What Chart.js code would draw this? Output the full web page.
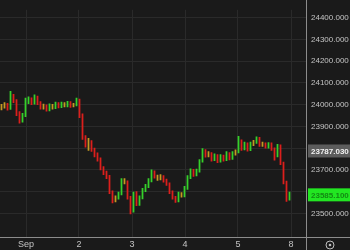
<!DOCTYPE html>
<html>
<head>
<meta charset="utf-8">
<script src="https://cdn.jsdelivr.net/npm/chart.js@4.4.1/dist/chart.umd.min.js"></script>
<style>
  html, body { margin: 0; padding: 0; background: #1a1a1a; }
  #wrap { width: 350px; height: 250px; }
</style>
</head>
<body>
<div id="wrap"><canvas id="chart"></canvas></div>
<script>
// price bars, one every ~3px of the reference
var firstOpen = 23985;
var closes = [23991, 24000, 23982, 24040, 24018, 23960, 23934, 23951, 24013, 24026,
  24009, 24035, 24009, 23987, 23996, 23978, 23996, 23987, 24004, 23991,
  24004, 23996, 24009, 23996, 24000, 24022, 23951, 23850, 23819, 23828,
  23793, 23771, 23749, 23709, 23687, 23669, 23598, 23563, 23572, 23590,
  23651, 23643, 23572, 23510, 23590, 23541, 23572, 23607, 23625, 23651,
  23691, 23669, 23660, 23669, 23651, 23634, 23598, 23572, 23559, 23590,
  23581, 23616, 23665, 23696, 23678, 23696, 23740, 23788, 23766, 23775,
  23748, 23766, 23740, 23762, 23748, 23775, 23753, 23775, 23784, 23832,
  23797, 23819, 23793, 23819, 23828, 23846, 23815, 23819, 23806, 23819,
  23797, 23766, 23810, 23731, 23643, 23568, 23585];
var highs = [24002, 24010, 24006, 24062, 24048, 24024, 23968, 23960, 24030, 24036,
  24032, 24045, 24040, 24015, 24003, 24000, 24004, 24002, 24012, 24010,
  24012, 24010, 24016, 24014, 24006, 24030, 24026, 23958, 23858, 23845,
  23835, 23800, 23778, 23755, 23715, 23694, 23675, 23604, 23580, 23598,
  23660, 23660, 23650, 23578, 23598, 23600, 23580, 23615, 23634, 23660,
  23700, 23696, 23676, 23678, 23674, 23658, 23640, 23604, 23578, 23598,
  23596, 23624, 23674, 23705, 23702, 23704, 23748, 23798, 23794, 23784,
  23780, 23774, 23770, 23770, 23768, 23784, 23780, 23784, 23792, 23855,
  23838, 23828, 23825, 23828, 23836, 23852, 23850, 23828, 23825, 23826,
  23824, 23802, 23818, 23815, 23736, 23648, 23598];
var lows = [23976, 23984, 23975, 23978, 24010, 23950, 23915, 23920, 23945, 24005,
  24000, 24002, 24000, 23980, 23980, 23970, 23972, 23980, 23982, 23985,
  23986, 23990, 23990, 23988, 23990, 23995, 23940, 23840, 23805, 23790,
  23785, 23760, 23740, 23700, 23678, 23660, 23590, 23548, 23552, 23565,
  23585, 23635, 23565, 23497, 23505, 23535, 23536, 23566, 23600, 23618,
  23645, 23662, 23652, 23654, 23644, 23628, 23590, 23565, 23550, 23552,
  23574, 23576, 23610, 23660, 23670, 23672, 23690, 23735, 23758, 23760,
  23740, 23742, 23733, 23735, 23740, 23742, 23746, 23748, 23768, 23778,
  23790, 23792, 23786, 23788, 23812, 23822, 23808, 23808, 23800, 23800,
  23790, 23745, 23760, 23724, 23635, 23555, 23560];

var dayTicks = [8.17, 25.83, 43.5, 61.17, 78.83, 96.5];
var dayLabels = ['Sep', '2', '3', '4', '5', '8'];
var priceTicks = [23500, 23600, 23700, 23800, 23900, 24000, 24100, 24200, 24300, 24400];
var hiddenTicks = [23600, 23800];
var lastPrice = 23585.1;
var markPrice = 23787.03;

var bars = [], colors = [];
for (var i = 0; i < closes.length; i++) {
  var open = i ? closes[i - 1] : firstOpen;
  bars.push({ x: i, y: [lows[i], highs[i]] });
  var diff = closes[i] - open;
  if (Math.abs(diff) < 12) colors.push('#c49a22');
  else if (diff > 0) colors.push('#35d12a');
  else colors.push('#dc1f1c');
}

var FONT = '"Liberation Sans", Arial, sans-serif';

var extras = {
  id: 'extras',
  afterDraw: function(chart) {
    var ctx = chart.ctx, y = chart.scales.y, area = chart.chartArea;
    ctx.save();
    // axis lines
    ctx.strokeStyle = '#8c8c8c';
    ctx.lineWidth = 1;
    ctx.beginPath();
    ctx.moveTo(area.right + 0.5, 0);
    ctx.lineTo(area.right + 0.5, chart.height);
    ctx.moveTo(0, area.bottom + 0.5);
    ctx.lineTo(chart.width, area.bottom + 0.5);
    ctx.stroke();
    // price boxes
    function box(v, bg, fg) {
      var py = y.getPixelForValue(v);
      ctx.fillStyle = bg;
      ctx.fillRect(area.right + 2, py - 6.5, chart.width - area.right - 2, 13);
      ctx.fillStyle = fg;
      ctx.font = 'bold 8px ' + FONT;
      ctx.textBaseline = 'middle';
      ctx.textAlign = 'left';
      ctx.fillText(v.toFixed(3), area.right + 5, py + 0.5);
    }
    box(markPrice, '#5c5c5c', '#f0f0f0');
    box(lastPrice, '#22e622', '#138a13');
    // settings icon
    ctx.strokeStyle = '#bdbdbd';
    ctx.beginPath();
    ctx.arc(330, 245, 4, 0, Math.PI * 2);
    ctx.stroke();
    ctx.fillStyle = '#bdbdbd';
    ctx.beginPath();
    ctx.arc(330, 245, 1.3, 0, Math.PI * 2);
    ctx.fill();
    ctx.restore();
  }
};

var bgPlugin = {
  id: 'bg',
  beforeDraw: function(chart) {
    var ctx = chart.ctx;
    ctx.save();
    ctx.fillStyle = '#1a1a1a';
    ctx.fillRect(0, 0, chart.width, chart.height);
    ctx.restore();
  }
};

new Chart(document.getElementById('chart'), {
  type: 'bar',
  data: {
    datasets: [{
      data: bars,
      backgroundColor: colors,
      borderWidth: 0,
      barThickness: 1.1,
      grouped: false
    }]
  },
  options: {
    responsive: true,
    maintainAspectRatio: false,
    animation: false,
    layout: { padding: 0 },
    plugins: { legend: { display: false }, tooltip: { enabled: false } },
    scales: {
      x: {
        type: 'linear',
        offset: false,
        min: -0.5,
        max: 101.5,
        afterBuildTicks: function(axis) {
          axis.ticks = dayTicks.map(function(v) { return { value: v }; });
        },
        afterFit: function(axis) { axis.height = 13; },
        ticks: {
          color: '#c4c4c4',
          font: { size: 9, family: FONT },
          padding: 2,
          maxRotation: 0,
          autoSkip: false,
          callback: function(v, idx) { return dayLabels[idx]; }
        },
        grid: { color: '#2a2a2a', drawTicks: false, offset: false },
        border: { display: false }
      },
      y: {
        position: 'right',
        min: 23391,
        max: 24437,
        afterBuildTicks: function(axis) {
          axis.ticks = priceTicks.map(function(v) { return { value: v }; });
        },
        afterFit: function(axis) { axis.width = 44; },
        ticks: {
          color: '#c4c4c4',
          font: { size: 8, family: FONT },
          padding: 5,
          callback: function(v) {
            return hiddenTicks.indexOf(v) >= 0 ? '' : v.toFixed(3);
          }
        },
        grid: { color: '#2a2a2a', drawTicks: false },
        border: { display: false }
      }
    }
  },
  plugins: [bgPlugin, extras]
});
</script>
</body>
</html>
